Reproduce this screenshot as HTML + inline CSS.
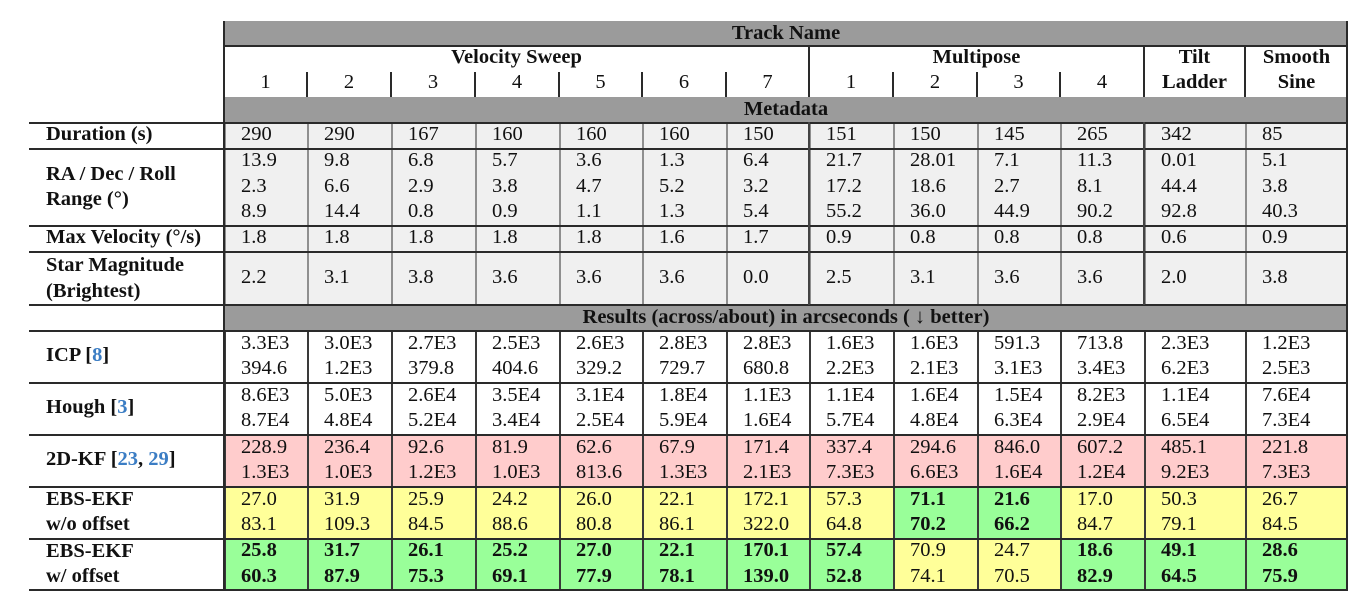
<!DOCTYPE html>
<html><head><meta charset="utf-8">
<style>
body{margin:0;background:#fff;}
#c{position:relative;width:1363px;height:606px;overflow:hidden;font-family:"Liberation Serif","DejaVu Serif",serif;font-size:20.5px;color:#111;background:#fff;}
.band{position:absolute;left:224px;width:1124px;background:#9b9b9b;}
.hl{position:absolute;height:2px;background:#2a2a2a;}
.vl{position:absolute;width:2px;background:#2a2a2a;}
.row{position:absolute;left:224px;width:1124px;display:grid;grid-template-columns:83px 84px 84px 84px 83px 84px 83px 84px 84px 83px 84px 101px 103px;grid-template-rows:100%;overflow:hidden;}
.row>div{display:flex;flex-direction:column;justify-content:center;padding:0 0 2px 15px;box-sizing:border-box;line-height:25.5px;white-space:nowrap;overflow:hidden;}
.m>div{background:#f0f0f0;border-left:2px solid #8f8f8f;}
.r>div{border-left:2px solid #3a3a3a;line-height:25.5px;}
.lab{position:absolute;left:46px;font-weight:bold;display:flex;flex-direction:column;justify-content:center;line-height:25.5px;white-space:nowrap;padding-bottom:2px;box-sizing:border-box;}
.b{font-weight:bold}
.r>div.pk{background:#ffcccc}
.r>div.yl{background:#ffff99}
.r>div.gr{background:#99ff99}
.ct{position:absolute;text-align:center;white-space:nowrap;}
.bold{font-weight:bold}
.blue{color:#3b7dc4}
</style></head><body><div id="c">

<!-- bands -->
<div class="band" style="top:21px;height:25px;"></div>
<div class="band" style="top:97px;height:25px;"></div>
<div class="band" style="top:305px;height:26px;"></div>

<div class="ct bold" style="left:224px;width:1124px;top:21px;height:25px;line-height:25px;">Track Name</div>
<div class="ct bold" style="left:224px;width:1124px;top:97px;height:25px;line-height:25px;">Metadata</div>
<div class="ct bold" style="left:224px;width:1124px;top:305px;height:26px;line-height:25px;">Results (across/about) in arcseconds ( ↓ better)</div>

<!-- sub header -->
<div class="ct bold" style="left:224px;width:585px;top:45px;line-height:25px;">Velocity Sweep</div>
<div class="ct bold" style="left:809px;width:335px;top:45px;line-height:25px;">Multipose</div>
<div class="ct bold" style="left:1144px;width:101px;top:45px;line-height:25px;">Tilt<br>Ladder</div>
<div class="ct bold" style="left:1245px;width:103px;top:45px;line-height:25px;">Smooth<br>Sine</div>
<div class="ct" style="left:224px;width:83px;top:70px;line-height:25px;">1</div>
<div class="ct" style="left:307px;width:84px;top:70px;line-height:25px;">2</div>
<div class="ct" style="left:391px;width:84px;top:70px;line-height:25px;">3</div>
<div class="ct" style="left:475px;width:84px;top:70px;line-height:25px;">4</div>
<div class="ct" style="left:559px;width:83px;top:70px;line-height:25px;">5</div>
<div class="ct" style="left:642px;width:84px;top:70px;line-height:25px;">6</div>
<div class="ct" style="left:726px;width:83px;top:70px;line-height:25px;">7</div>
<div class="ct" style="left:809px;width:84px;top:70px;line-height:25px;">1</div>
<div class="ct" style="left:893px;width:84px;top:70px;line-height:25px;">2</div>
<div class="ct" style="left:977px;width:83px;top:70px;line-height:25px;">3</div>
<div class="ct" style="left:1060px;width:84px;top:70px;line-height:25px;">4</div>

<!-- metadata rows -->
<div class="lab" style="top:123px;height:26px;"><div>Duration (s)</div></div>
<div class="row m" style="top:123px;height:26px;">
<div>290</div><div>290</div><div>167</div><div>160</div><div>160</div><div>160</div><div>150</div><div>151</div><div>150</div><div>145</div><div>265</div><div>342</div><div>85</div>
</div>

<div class="lab" style="top:149px;height:77px;line-height:25px;"><div>RA / Dec / Roll</div><div>Range (°)</div></div>
<div class="row m" style="top:149px;height:77px;">
<div>13.9<br>2.3<br>8.9</div><div>9.8<br>6.6<br>14.4</div><div>6.8<br>2.9<br>0.8</div><div>5.7<br>3.8<br>0.9</div><div>3.6<br>4.7<br>1.1</div><div>1.3<br>5.2<br>1.3</div><div>6.4<br>3.2<br>5.4</div><div>21.7<br>17.2<br>55.2</div><div>28.01<br>18.6<br>36.0</div><div>7.1<br>2.7<br>44.9</div><div>11.3<br>8.1<br>90.2</div><div>0.01<br>44.4<br>92.8</div><div>5.1<br>3.8<br>40.3</div>
</div>

<div class="lab" style="top:226px;height:26px;"><div>Max Velocity (°/s)</div></div>
<div class="row m" style="top:226px;height:26px;">
<div>1.8</div><div>1.8</div><div>1.8</div><div>1.8</div><div>1.8</div><div>1.6</div><div>1.7</div><div>0.9</div><div>0.8</div><div>0.8</div><div>0.8</div><div>0.6</div><div>0.9</div>
</div>

<div class="lab" style="top:252px;height:53px;line-height:26px;"><div>Star Magnitude</div><div>(Brightest)</div></div>
<div class="row m" style="top:252px;height:53px;">
<div>2.2</div><div>3.1</div><div>3.8</div><div>3.6</div><div>3.6</div><div>3.6</div><div>0.0</div><div>2.5</div><div>3.1</div><div>3.6</div><div>3.6</div><div>2.0</div><div>3.8</div>
</div>

<!-- results rows -->
<div class="lab" style="top:331px;height:52px;"><div>ICP [<span class="blue">8</span>]</div></div>
<div class="row r" style="top:331px;height:52px;">
<div>3.3E3<br>394.6</div><div>3.0E3<br>1.2E3</div><div>2.7E3<br>379.8</div><div>2.5E3<br>404.6</div><div>2.6E3<br>329.2</div><div>2.8E3<br>729.7</div><div>2.8E3<br>680.8</div><div>1.6E3<br>2.2E3</div><div>1.6E3<br>2.1E3</div><div>591.3<br>3.1E3</div><div>713.8<br>3.4E3</div><div>2.3E3<br>6.2E3</div><div>1.2E3<br>2.5E3</div>
</div>

<div class="lab" style="top:383px;height:52px;"><div>Hough [<span class="blue">3</span>]</div></div>
<div class="row r" style="top:383px;height:52px;">
<div>8.6E3<br>8.7E4</div><div>5.0E3<br>4.8E4</div><div>2.6E4<br>5.2E4</div><div>3.5E4<br>3.4E4</div><div>3.1E4<br>2.5E4</div><div>1.8E4<br>5.9E4</div><div>1.1E3<br>1.6E4</div><div>1.1E4<br>5.7E4</div><div>1.6E4<br>4.8E4</div><div>1.5E4<br>6.3E4</div><div>8.2E3<br>2.9E4</div><div>1.1E4<br>6.5E4</div><div>7.6E4<br>7.3E4</div>
</div>

<div class="lab" style="top:435px;height:52px;"><div>2D-KF [<span class="blue">23</span>, <span class="blue">29</span>]</div></div>
<div class="row r" style="top:435px;height:52px;">
<div class="pk">228.9<br>1.3E3</div><div class="pk">236.4<br>1.0E3</div><div class="pk">92.6<br>1.2E3</div><div class="pk">81.9<br>1.0E3</div><div class="pk">62.6<br>813.6</div><div class="pk">67.9<br>1.3E3</div><div class="pk">171.4<br>2.1E3</div><div class="pk">337.4<br>7.3E3</div><div class="pk">294.6<br>6.6E3</div><div class="pk">846.0<br>1.6E4</div><div class="pk">607.2<br>1.2E4</div><div class="pk">485.1<br>9.2E3</div><div class="pk">221.8<br>7.3E3</div>
</div>

<div class="lab" style="top:487px;height:52px;line-height:25px;"><div>EBS-EKF</div><div>w/o offset</div></div>
<div class="row r" style="top:487px;height:52px;">
<div class="yl">27.0<br>83.1</div><div class="yl">31.9<br>109.3</div><div class="yl">25.9<br>84.5</div><div class="yl">24.2<br>88.6</div><div class="yl">26.0<br>80.8</div><div class="yl">22.1<br>86.1</div><div class="yl">172.1<br>322.0</div><div class="yl">57.3<br>64.8</div><div class="gr b">71.1<br>70.2</div><div class="gr b">21.6<br>66.2</div><div class="yl">17.0<br>84.7</div><div class="yl">50.3<br>79.1</div><div class="yl">26.7<br>84.5</div>
</div>

<div class="lab" style="top:539px;height:51px;line-height:25px;"><div>EBS-EKF</div><div>w/ offset</div></div>
<div class="row r" style="top:539px;height:51px;">
<div class="gr b">25.8<br>60.3</div><div class="gr b">31.7<br>87.9</div><div class="gr b">26.1<br>75.3</div><div class="gr b">25.2<br>69.1</div><div class="gr b">27.0<br>77.9</div><div class="gr b">22.1<br>78.1</div><div class="gr b">170.1<br>139.0</div><div class="gr b">57.4<br>52.8</div><div class="yl">70.9<br>74.1</div><div class="yl">24.7<br>70.5</div><div class="gr b">18.6<br>82.9</div><div class="gr b">49.1<br>64.5</div><div class="gr b">28.6<br>75.9</div>
</div>

<!-- horizontal lines -->
<div class="hl" style="left:224px;width:1124px;top:45px;"></div>
<div class="hl" style="left:29px;width:1319px;top:122px;"></div>
<div class="hl" style="left:29px;width:1319px;top:148px;"></div>
<div class="hl" style="left:29px;width:1319px;top:225px;"></div>
<div class="hl" style="left:29px;width:1319px;top:251px;"></div>
<div class="hl" style="left:29px;width:1319px;top:304px;"></div>
<div class="hl" style="left:29px;width:1319px;top:330px;"></div>
<div class="hl" style="left:29px;width:1319px;top:382px;"></div>
<div class="hl" style="left:29px;width:1319px;top:434px;"></div>
<div class="hl" style="left:29px;width:1319px;top:486px;"></div>
<div class="hl" style="left:29px;width:1319px;top:538px;"></div>
<div class="hl" style="left:29px;width:1319px;top:589px;"></div>

<!-- vertical lines -->
<div class="vl" style="left:223px;top:21px;height:570px;"></div>
<div class="vl" style="left:1346px;top:21px;height:570px;"></div>
<div class="vl" style="left:808px;top:46px;height:51px;"></div>
<div class="vl" style="left:1143px;top:46px;height:51px;"></div>
<div class="vl" style="left:1244px;top:46px;height:51px;"></div>
<div class="vl" style="left:808px;top:122px;height:183px;background:#444;"></div>
<div class="vl" style="left:1143px;top:122px;height:183px;background:#444;"></div>
<div class="vl" style="left:306px;top:72px;height:25px;"></div>
<div class="vl" style="left:390px;top:72px;height:25px;"></div>
<div class="vl" style="left:474px;top:72px;height:25px;"></div>
<div class="vl" style="left:558px;top:72px;height:25px;"></div>
<div class="vl" style="left:641px;top:72px;height:25px;"></div>
<div class="vl" style="left:725px;top:72px;height:25px;"></div>
<div class="vl" style="left:892px;top:72px;height:25px;"></div>
<div class="vl" style="left:976px;top:72px;height:25px;"></div>
<div class="vl" style="left:1059px;top:72px;height:25px;"></div>

</div></body></html>
